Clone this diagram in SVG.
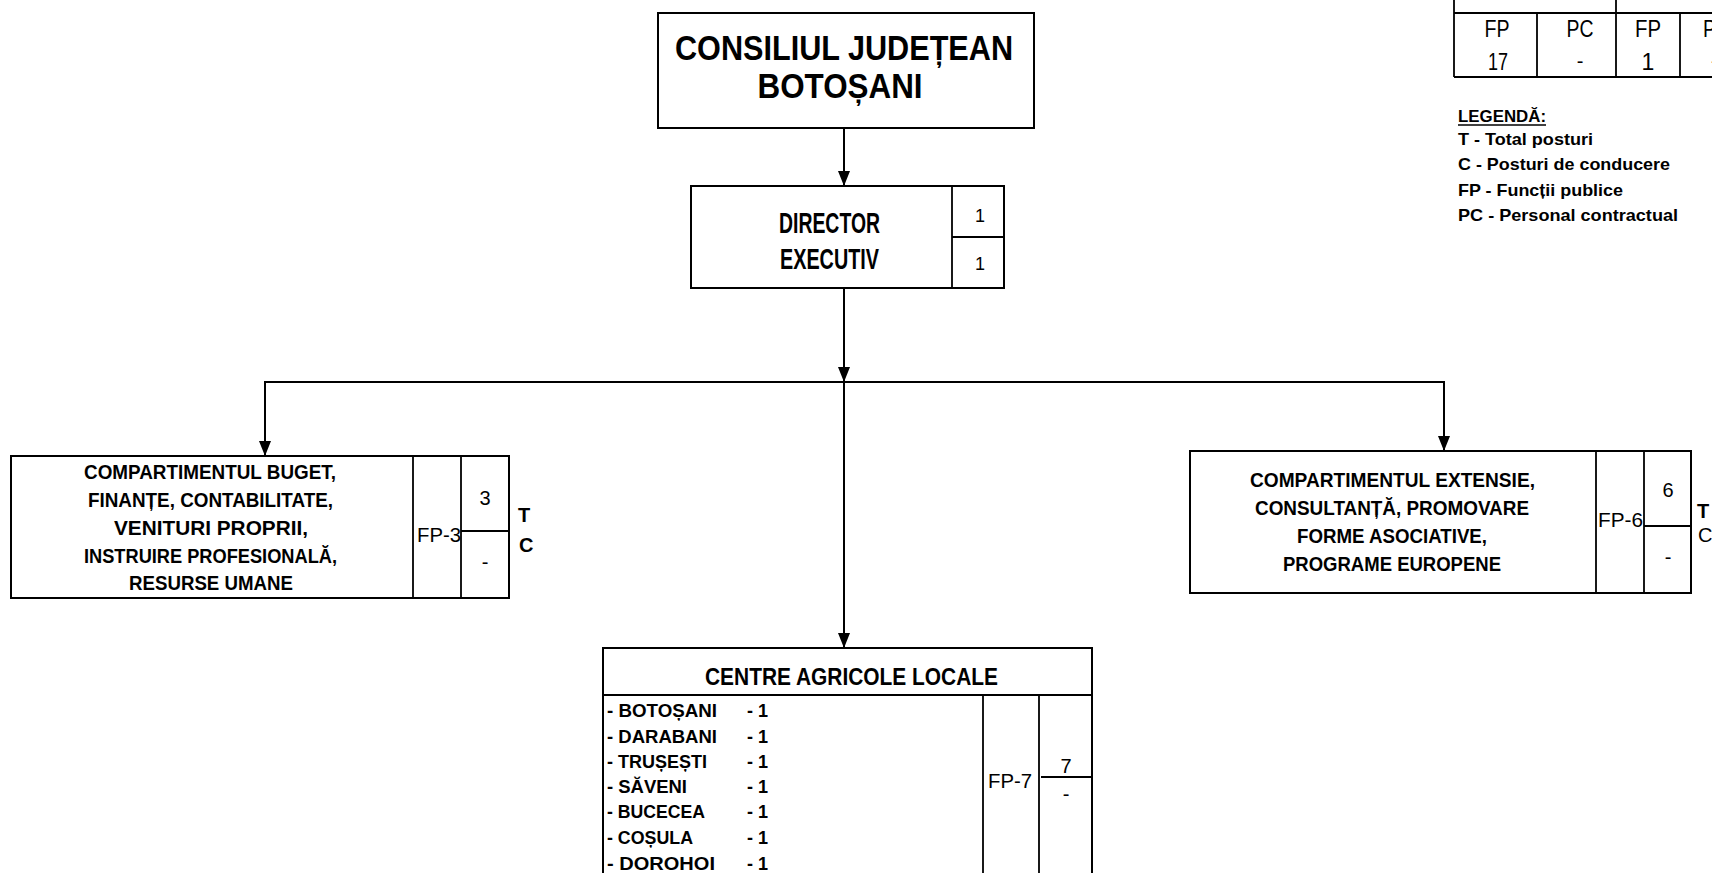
<svg xmlns="http://www.w3.org/2000/svg" width="1712" height="873" viewBox="0 0 1712 873">
<style>
.bx{fill:#fff;stroke:#000;stroke-width:2}
.ln{stroke:#000;stroke-width:1.8;fill:none}
.cn{stroke:#000;stroke-width:2;fill:none}
.b{font-family:"Liberation Sans",Arial,sans-serif;font-weight:bold;fill:#000}
.r{font-family:"Liberation Sans",Arial,sans-serif;font-weight:normal;fill:#000}
.m{text-anchor:middle}
</style>
<defs>
<marker id="ah" viewBox="0 0 15 12" refX="15" refY="6" markerWidth="15" markerHeight="12" markerUnits="userSpaceOnUse" orient="auto">
<path d="M0,0 L15,6 L0,12 z" fill="#000"/>
</marker>
</defs>
<rect width="1712" height="873" fill="#fff"/>

<g id="connectors">
<line class="cn" x1="844" y1="128" x2="844" y2="186" marker-end="url(#ah)"/>
<line class="cn" x1="844" y1="288" x2="844" y2="382" marker-end="url(#ah)"/>
<line class="cn" x1="264" y1="382" x2="1445" y2="382" stroke-width="2.5"/>
<line class="cn" x1="265" y1="382" x2="265" y2="456" marker-end="url(#ah)"/>
<line class="cn" x1="1444" y1="382" x2="1444" y2="451" marker-end="url(#ah)"/>
<line class="cn" x1="844" y1="382" x2="844" y2="648" marker-end="url(#ah)"/>
</g>

<g id="consiliul">
<rect class="bx" x="658" y="13" width="376" height="115" stroke-width="3"/>
<text class="b m" x="844" y="60" font-size="35" textLength="338" lengthAdjust="spacingAndGlyphs">CONSILIUL JUDEȚEAN</text>
<text class="b m" x="840" y="98" font-size="35" textLength="165" lengthAdjust="spacingAndGlyphs">BOTOȘANI</text>
</g>

<g id="director">
<rect class="bx" x="691" y="186" width="313" height="102"/>
<line class="ln" x1="952" y1="186" x2="952" y2="288"/>
<line class="ln" x1="952" y1="237" x2="1004" y2="237"/>
<text class="b m" x="829.5" y="233" font-size="29" textLength="101" lengthAdjust="spacingAndGlyphs">DIRECTOR</text>
<text class="b m" x="829.5" y="269" font-size="29" textLength="99" lengthAdjust="spacingAndGlyphs">EXECUTIV</text>
<text class="r m" x="980" y="222" font-size="18">1</text>
<text class="r m" x="980" y="270" font-size="18">1</text>
</g>

<g id="buget">
<rect class="bx" x="11" y="456" width="498" height="142"/>
<line class="ln" x1="413" y1="456" x2="413" y2="598"/>
<line class="ln" x1="461" y1="456" x2="461" y2="598"/>
<line class="ln" x1="461" y1="531" x2="509" y2="531"/>
<text class="b m" x="210" y="479" font-size="20" textLength="252" lengthAdjust="spacingAndGlyphs">COMPARTIMENTUL BUGET,</text>
<text class="b m" x="210.5" y="507" font-size="20" textLength="245" lengthAdjust="spacingAndGlyphs">FINANȚE, CONTABILITATE,</text>
<text class="b m" x="211" y="535" font-size="20" textLength="194" lengthAdjust="spacingAndGlyphs">VENITURI PROPRII,</text>
<text class="b m" x="210.5" y="563" font-size="20" textLength="253" lengthAdjust="spacingAndGlyphs">INSTRUIRE PROFESIONALĂ,</text>
<text class="b m" x="211" y="590" font-size="20" textLength="164" lengthAdjust="spacingAndGlyphs">RESURSE UMANE</text>
<text class="r" x="417" y="542" font-size="20" textLength="44" lengthAdjust="spacingAndGlyphs">FP-3</text>
<text class="r m" x="485" y="505" font-size="20">3</text>
<text class="r m" x="485" y="569" font-size="20">-</text>
<text class="b" x="518" y="522" font-size="20">T</text>
<text class="b" x="519" y="552" font-size="20">C</text>
</g>

<g id="extensie">
<rect class="bx" x="1190" y="451" width="501" height="142"/>
<line class="ln" x1="1596" y1="451" x2="1596" y2="593"/>
<line class="ln" x1="1644" y1="451" x2="1644" y2="593"/>
<line class="ln" x1="1644" y1="526" x2="1691" y2="526"/>
<text class="b m" x="1392.5" y="487" font-size="20" textLength="285" lengthAdjust="spacingAndGlyphs">COMPARTIMENTUL EXTENSIE,</text>
<text class="b m" x="1392" y="515" font-size="20" textLength="274" lengthAdjust="spacingAndGlyphs">CONSULTANȚĂ, PROMOVARE</text>
<text class="b m" x="1392" y="543" font-size="20" textLength="190" lengthAdjust="spacingAndGlyphs">FORME ASOCIATIVE,</text>
<text class="b m" x="1392" y="571" font-size="20" textLength="218" lengthAdjust="spacingAndGlyphs">PROGRAME EUROPENE</text>
<text class="r" x="1598" y="527" font-size="20" textLength="45" lengthAdjust="spacingAndGlyphs">FP-6</text>
<text class="r m" x="1668" y="497" font-size="20">6</text>
<text class="r m" x="1668" y="564" font-size="20">-</text>
<text class="b" x="1697" y="518" font-size="20">T</text>
<text class="r" x="1698" y="542" font-size="20">C</text>
</g>

<g id="centre">
<rect class="bx" x="603" y="648" width="489" height="240"/>
<line class="ln" x1="603" y1="695" x2="1092" y2="695"/>
<line class="ln" x1="983" y1="695" x2="983" y2="873"/>
<line class="ln" x1="1039" y1="695" x2="1039" y2="873"/>
<line class="ln" x1="1041" y1="777" x2="1092" y2="777"/>
<text class="b m" x="851.5" y="685" font-size="24" textLength="293" lengthAdjust="spacingAndGlyphs">CENTRE AGRICOLE LOCALE</text>
<text class="b" x="607" y="717" font-size="18" textLength="110" lengthAdjust="spacingAndGlyphs">- BOTOȘANI</text>
<text class="b" x="607" y="743" font-size="18" textLength="110" lengthAdjust="spacingAndGlyphs">- DARABANI</text>
<text class="b" x="607" y="768" font-size="18" textLength="100" lengthAdjust="spacingAndGlyphs">- TRUȘEȘTI</text>
<text class="b" x="607" y="793" font-size="18" textLength="80" lengthAdjust="spacingAndGlyphs">- SĂVENI</text>
<text class="b" x="607" y="818" font-size="18" textLength="98" lengthAdjust="spacingAndGlyphs">- BUCECEA</text>
<text class="b" x="607" y="844" font-size="18" textLength="86" lengthAdjust="spacingAndGlyphs">- COȘULA</text>
<text class="b" x="607" y="870" font-size="18" textLength="108" lengthAdjust="spacingAndGlyphs">- DOROHOI</text>
<text class="b" x="747" y="717" font-size="18">- 1</text>
<text class="b" x="747" y="743" font-size="18">- 1</text>
<text class="b" x="747" y="768" font-size="18">- 1</text>
<text class="b" x="747" y="793" font-size="18">- 1</text>
<text class="b" x="747" y="818" font-size="18">- 1</text>
<text class="b" x="747" y="844" font-size="18">- 1</text>
<text class="b" x="747" y="870" font-size="18">- 1</text>
<text class="r" x="988" y="788" font-size="20" textLength="44" lengthAdjust="spacingAndGlyphs">FP-7</text>
<text class="r m" x="1066" y="773" font-size="20">7</text>
<text class="r m" x="1066" y="801" font-size="20">-</text>
</g>

<g id="tabel">
<line class="ln" x1="1454" y1="0" x2="1454" y2="77"/>
<line class="ln" x1="1616" y1="0" x2="1616" y2="77"/>
<line class="ln" x1="1537" y1="13" x2="1537" y2="77"/>
<line class="ln" x1="1680" y1="13" x2="1680" y2="77"/>
<line class="ln" x1="1454" y1="13" x2="1712" y2="13"/>
<line class="ln" x1="1454" y1="77" x2="1712" y2="77"/>
<text class="r m" x="1497" y="37" font-size="23" textLength="25" lengthAdjust="spacingAndGlyphs">FP</text>
<text class="r m" x="1498" y="70" font-size="23" textLength="20" lengthAdjust="spacingAndGlyphs">17</text>
<text class="r m" x="1580" y="37" font-size="23" textLength="27" lengthAdjust="spacingAndGlyphs">PC</text>
<text class="r m" x="1580" y="68" font-size="20">-</text>
<text class="r m" x="1648" y="37" font-size="23" textLength="26" lengthAdjust="spacingAndGlyphs">FP</text>
<text class="r m" x="1648" y="70" font-size="23">1</text>
<text class="r" x="1703" y="37" font-size="23" textLength="27" lengthAdjust="spacingAndGlyphs">PC</text>
<text class="r" x="1711" y="68" font-size="20">-</text>
</g>

<g id="legenda">
<text class="b" x="1458" y="122" font-size="17" textLength="88" lengthAdjust="spacingAndGlyphs">LEGENDĂ:</text>
<line x1="1458" y1="125" x2="1546" y2="125" stroke="#000" stroke-width="1.5"/>
<text class="b" x="1458" y="145" font-size="17" textLength="135" lengthAdjust="spacingAndGlyphs">T - Total posturi</text>
<text class="b" x="1458" y="170" font-size="17" textLength="212" lengthAdjust="spacingAndGlyphs">C - Posturi de conducere</text>
<text class="b" x="1458" y="196" font-size="17" textLength="165" lengthAdjust="spacingAndGlyphs">FP - Funcții publice</text>
<text class="b" x="1458" y="221" font-size="17" textLength="220" lengthAdjust="spacingAndGlyphs">PC - Personal contractual</text>
</g>
</svg>
